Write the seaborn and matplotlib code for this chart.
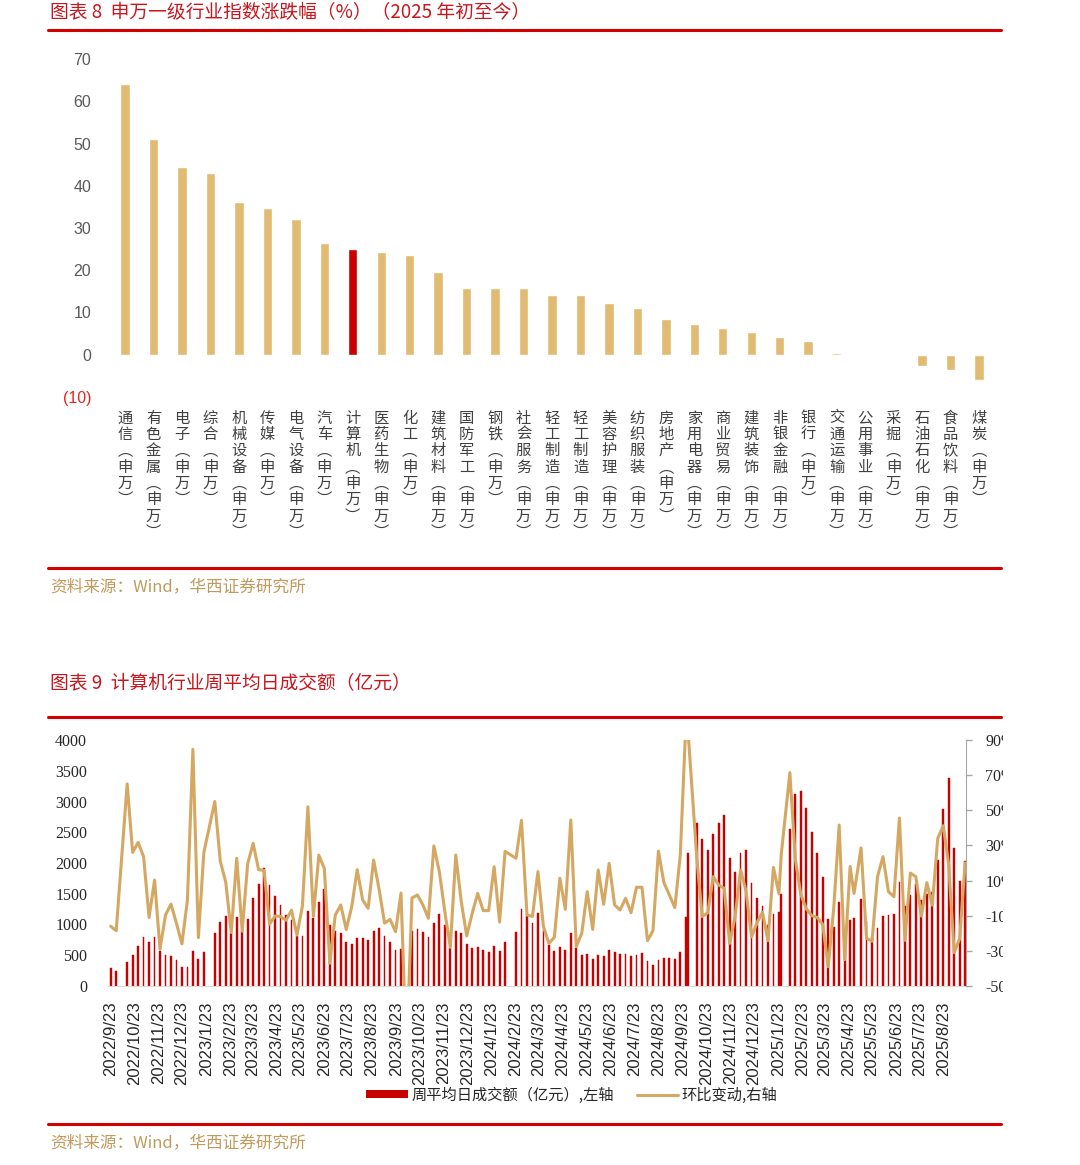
"""Two-panel report figure: SW level-1 industry returns (2025 YTD) and computer-sector weekly turnover."""

import matplotlib.pyplot as plt
import numpy as np
import pandas as pd
import seaborn as sns
from matplotlib.lines import Line2D
from matplotlib.patches import Patch, Rectangle

plt.switch_backend("Agg")

W, H = 1080, 1165

TITLE_RED = "#C8161E"
RULE_RED = "#D40000"
BAR_RED = "#C80000"
BAR_GOLD = "#E1BB72"
LINE_GOLD = "#D4A862"
SOURCE_COLOR = "#C09A5B"

# ---- chart 8: industry index change, % ----
INDUSTRIES = [
    "通信", "有色金属", "电子", "综合", "机械设备", "传媒", "电气设备", "汽车",
    "计算机", "医药生物", "化工", "建筑材料", "国防军工", "钢铁", "社会服务",
    "轻工制造", "轻工制造", "美容护理", "纺织服装", "房地产", "家用电器",
    "商业贸易", "建筑装饰", "非银金融", "银行", "交通运输", "公用事业", "采掘",
    "石油石化", "食品饮料", "煤炭",
]
YTD_CHANGE = [
    64.2, 51.1, 44.4, 43.1, 36.2, 34.8, 32.1, 26.4, 25.1, 24.3, 23.5, 19.6,
    15.9, 15.9, 15.8, 14.2, 14.1, 12.2, 11.0, 8.5, 7.3, 6.4, 5.4, 4.1, 3.2,
    0.5, 0.2, -0.1, -2.7, -3.5, -5.9,
]
HIGHLIGHT = "计算机"
Y1_TICKS = [-10, 0, 10, 20, 30, 40, 50, 60, 70]
Y1_LABELS = ["(10)", "0", "10", "20", "30", "40", "50", "60", "70"]

# ---- chart 9: weekly average daily turnover (亿元) and week-on-week change (%) ----
FIRST_WEEK = "2022-09-23"
N_WEEKS = 157
# weeks whose last trading day was not the Friday
SHIFTED_WEEKS = {"2024-10-04": "2024-09-30", "2025-01-31": "2025-01-27", "2025-05-02": "2025-04-30"}
TURNOVER = [
    295, 240, None, 390, 500, 650, 800, 715, 790, 565,
    510, 495, 420, 315, 315, 575, 440, 560, None, 860,
    1045, 1135, 860, 1125, 895, 1095, 1430, 1660, 1920, 1640,
    1470, 1315, 1150, 1075, 815, 805, 1215, 1100, 1360, 1575,
    1000, 900, 865, 715, 680, 785, 780, 740, 900, 945,
    813, 721, 585, 602, None, 900, 920, 883, 791, 1019,
    1171, 1000, 612, 900, 865, 680, 618, 632, 591, 555,
    645, 569, 715, None, 875, 1258, 1145, 1030, 1182, 915,
    660, 575, 632, 593, 856, 612, 510, 520, 434, 500,
    485, 580, 558, 520, 520, 482, 502, 537, 410, 336,
    423, 455, 463, 439, 560, 1115, 2157, 2656, 2388, 2205,
    2472, 2656, 2780, 2080, 1859, 2157, 2205, 1680, 1425, 1306,
    992, 1175, 1200, 1500, 2558, 3130, 3170, 2889, 2499, 2160,
    1778, 1084, 954, 1368, 880, 1080, 1110, 1420, 1060, 800,
    950, 1140, 1162, 1165, 1691, 1306, 1480, 1659, 1400, 1496,
    1523, 2045, 2885, 3377, 2246, 1710, 2030,
]
WOW_CHANGE = [
    -16, -18.5, None, 65, 26, 31.7, 23.6, -11, 10.3, -29,
    -9.6, -3.4, -14.3, -26, -1.1, 84.7, -22.5, 26, None, 55,
    21, 9.1, -19.6, 22.7, -18.8, 19.6, 31.2, 16.2, 15.8, -14.8,
    -10.2, -10.4, -12.6, -6.9, -21, -4.4, 52, -10.3, 24.5, 16.8,
    -37, -9.6, -3.9, -17.9, -4.9, 16.2, -1.1, -5.8, 21.7, 5,
    -14.2, -12.1, -19.1, 2.9, -90, 0.1, 1.8, -3.9, -11.5, 29.7,
    15, -7.7, -28, 24.6, -2, -21.5, -8.6, 2.7, -7.1, -7.1,
    17.9, -13.6, 26.6, None, 22.7, 44.3, -9.6, -10.4, 15.1, -16.2,
    -25.7, -22.3, 11.3, -6.4, 44.5, -27.6, -20, 3.7, -17.8, 16,
    -3.5, 19.8, -3.9, -6.7, -0.1, -8.3, 6.2, 6.2, -24.2, -18.5,
    26.8, 8.8, 1.8, -5.4, 25, 99, 94, 23, -10.5, -8.3,
    12.2, 7.5, 5.6, -25.7, -10.5, 16, 4, -22, -14, -8,
    -24.2, 17.5, 2.5, 25, 71.4, 22, 2, -6, -10, -11,
    -15, -39, -6, 41.6, -35, 18, 2.7, 28.6, -22.9, -24.5,
    12.2, 23.6, 3.7, 0.8, 45.6, -24, 14.3, 12.2, -10.2, 8.8,
    -4, 34, 41.2, 19, -31, -23, 20,
]
N_MONTH_TICKS = 36
Y2_TICKS = [0, 500, 1000, 1500, 2000, 2500, 3000, 3500, 4000]
Y3_TICKS = [-50, -30, -10, 10, 30, 50, 70, 90]


def fx(px):
    return px / W


def fy(py):
    return 1 - py / H


def header(fig, y_title, y_rule, text):
    fig.text(fx(50), fy(y_title), text, ha="left", va="center", color=TITLE_RED, fontsize=13.5)
    fig.add_artist(Line2D([fx(48), fx(1001)], [fy(y_rule), fy(y_rule)], color=RULE_RED, lw=2.2))


def footer(fig, y_rule, y_text):
    fig.add_artist(Line2D([fx(48), fx(1001)], [fy(y_rule), fy(y_rule)], color=RULE_RED, lw=2.2))
    fig.text(fx(50), fy(y_text), "资料来源：Wind，华西证券研究所", ha="left", va="center",
             color=SOURCE_COLOR, fontsize=12)


def main() -> None:
    sns.set_style("white")
    plt.rcParams["font.family"] = ["Noto Sans CJK SC", "DejaVu Sans"]

    fig = plt.figure(figsize=(W / 100, H / 100), dpi=100)

    # ---------------- chart 8 ----------------
    header(fig, 13, 30, "图表 8  申万一级行业指数涨跌幅（%）（2025 年初至今）")
    ax1 = fig.add_axes([fx(110.8), fy(397), (993.2 - 110.8) / W, (397 - 59) / H])
    df1 = pd.DataFrame({"slot": range(len(INDUSTRIES)), "chg": YTD_CHANGE})
    palette = {i: (BAR_RED if name == HIGHLIGHT else BAR_GOLD) for i, name in enumerate(INDUSTRIES)}
    sns.barplot(data=df1, x="slot", y="chg", hue="slot", palette=palette, legend=False,
                width=0.33, saturation=1, ax=ax1)
    ax1.set_xlim(-0.5, len(INDUSTRIES) - 0.5)
    ax1.set_ylim(-10, 70)
    ax1.set_xlabel("")
    ax1.set_ylabel("")
    ax1.set_yticks(Y1_TICKS, Y1_LABELS, fontfamily="Liberation Sans", fontsize=11.5, color="#595959")
    ax1.get_yticklabels()[0].set_color("#E8231E")
    vertical = ["\n".join(list(name) + ["︵", "申", "万", "︶"]) for name in INDUSTRIES]
    ax1.set_xticks(range(len(INDUSTRIES)), vertical, fontsize=11, color="#404040", linespacing=0.95)
    ax1.tick_params(axis="x", length=0, pad=9)
    ax1.tick_params(axis="y", length=0, pad=14)
    sns.despine(ax=ax1, left=True, bottom=True)
    footer(fig, 568, 587)

    # ---------------- chart 9 ----------------
    header(fig, 684, 717, "图表 9  计算机行业周平均日成交额（亿元）")
    start = pd.Timestamp(FIRST_WEEK)
    weeks = pd.date_range(FIRST_WEEK, periods=N_WEEKS, freq="W-FRI")
    weeks = [pd.Timestamp(SHIFTED_WEEKS.get(d.strftime("%Y-%m-%d"), d)) for d in weeks]
    days = [(d - start).days for d in weeks]

    ax = fig.add_axes([fx(108), fy(986), (966 - 108) / W, 246 / H])
    bars = pd.DataFrame({"day": days, "turnover": TURNOVER}).dropna()
    min_gap = np.diff(np.unique(bars["day"])).min()
    sns.barplot(data=bars, x="day", y="turnover", native_scale=True, width=2.3 / min_gap,
                color=BAR_RED, saturation=1, errorbar=None, linewidth=0.3, edgecolor=BAR_RED, ax=ax)
    ax.set_ylim(0, 4000)
    ax.set_yticks(Y2_TICKS, [str(t) for t in Y2_TICKS], fontfamily="Liberation Serif", fontsize=11.5)
    ax.tick_params(axis="y", length=0, pad=15)

    months = [start + pd.DateOffset(months=k) for k in range(N_MONTH_TICKS)]
    ax.set_xticks([(m - start).days for m in months],
                  [f"{m.year}/{m.month}/{m.day}" for m in months],
                  rotation=90, fontfamily="Liberation Sans", fontsize=12)
    ax.tick_params(axis="x", length=0, pad=11)
    ax.set_xlabel("")
    ax.set_ylabel("")
    for side in ("left", "top", "right"):
        ax.spines[side].set_visible(False)
    ax.spines["bottom"].set_color("#D9D9D9")

    ax2 = ax.twinx()
    wow = pd.DataFrame({"day": days, "pct": WOW_CHANGE}).dropna()
    sns.lineplot(data=wow, x="day", y="pct", estimator=None, color=LINE_GOLD, lw=2.2, ax=ax2)
    ax2.set_ylim(-50, 90)
    ax2.set_yticks(Y3_TICKS, [f"{t}%" for t in Y3_TICKS], fontfamily="Liberation Serif", fontsize=11.5)
    ax2.tick_params(axis="y", length=4, width=1, color="#A6A6A6", pad=10)
    ax2.set_ylabel("")
    for side in ("left", "top", "bottom"):
        ax2.spines[side].set_visible(False)
    ax2.spines["right"].set_color("#A6A6A6")
    ax.set_xlim(-3.5, days[-1] + 1.1)

    handles = [
        Patch(facecolor=BAR_RED, edgecolor="none"),
        Line2D([], [], color=LINE_GOLD, lw=2.2),
    ]
    fig.legend(handles, ["周平均日成交额（亿元）,左轴", "环比变动,右轴"], loc="center",
               bbox_to_anchor=(fx(572), fy(1095)), ncol=2, frameon=False, fontsize=11,
               handlelength=2.7, handleheight=0.5, handletextpad=0.25, columnspacing=1.5)
    footer(fig, 1124, 1143)

    # the source page is cut just right of the right-axis labels
    fig.add_artist(Rectangle((fx(1003), 0), 1 - fx(1003), 1, transform=fig.transFigure,
                             facecolor="white", edgecolor="none", zorder=10))

    fig.savefig("out.png", dpi=100)
    plt.close(fig)


if __name__ == "__main__":
    main()
